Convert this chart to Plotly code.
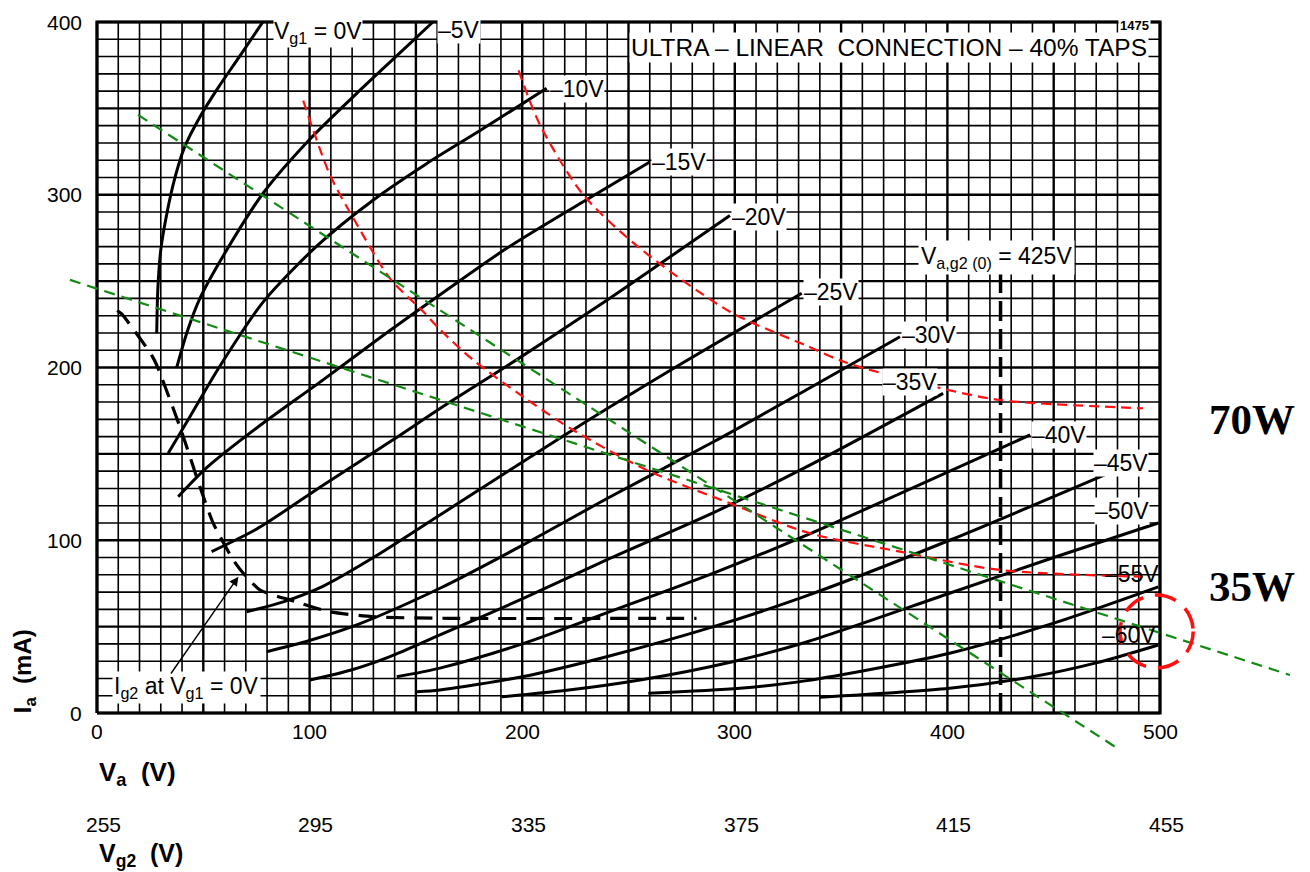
import plotly.graph_objects as go

# ---------------- data ----------------
grid_x = list(range(0, 501, 10))
grid_y = list(range(0, 401, 10))
x_ticks = [0, 100, 200, 300, 400, 500]
y_ticks = [0, 100, 200, 300, 400]
vg2_ticks = ["255", "295", "335", "375", "415", "455"]

va_0 = [28.1, 28.6, 30.0, 33.0, 36.7, 41.0, 48.4, 57.0, 67.0, 78.0]
ia_0 = [219.8, 245.0, 268.0, 290.0, 310.0, 327.0, 345.0, 362.0, 380.0, 400.0]
va_m5 = [37.5, 42.5, 48.4, 61.0, 78.2, 100.0, 125.0, 145.0, 158.0]
ia_m5 = [200.0, 221.0, 240.0, 268.0, 301.0, 332.0, 362.0, 385.0, 400.0]
va_m10 = [33.5, 43.7, 57.9, 78.2, 104.0, 130.0, 155.0, 180.0, 211.5]
ia_m10 = [150.3, 171.5, 201.0, 238.0, 271.0, 297.0, 318.0, 337.0, 361.6]
va_m15 = [38.2, 51.6, 75.1, 106.5, 135.0, 163.5, 192.7, 228.7, 260.0]
ia_m15 = [125.2, 142.0, 165.0, 193.0, 219.0, 244.0, 269.0, 296.0, 319.0]
va_m20 = [53.9, 75.1, 106.5, 137.8, 166.0, 198.0, 224.0, 250.7, 297.7]
ia_m20 = [93.4, 106.5, 132.0, 157.0, 180.0, 205.0, 226.0, 248.0, 288.0]
va_m25 = [70.4, 88.0, 106.5, 130.0, 161.3, 224.0, 276.0, 331.5]
ia_m25 = [58.6, 64.5, 73.5, 90.0, 114.6, 164.0, 203.0, 243.0]
va_m30 = [79.8, 100.0, 122.2, 161.3, 200.0, 239.7, 290.0, 335.0, 377.7]
ia_m30 = [35.5, 42.0, 51.0, 72.2, 97.0, 124.0, 157.0, 188.0, 217.8]
va_m35 = [100.2, 120.0, 137.8, 161.3, 200.0, 239.7, 290.0, 333.0, 398.0]
ia_m35 = [19.1, 25.0, 32.6, 45.2, 66.0, 88.6, 116.0, 142.0, 185.0]
va_m40 = [141.0, 161.3, 200.0, 239.7, 290.0, 333.0, 377.7, 438.9]
ia_m40 = [21.0, 26.0, 40.0, 58.0, 81.0, 102.5, 127.0, 161.0]
va_m45 = [150.4, 161.3, 200.0, 239.7, 290.0, 333.0, 401.0, 474.0]
ia_m45 = [12.3, 13.3, 21.0, 32.6, 50.0, 67.5, 100.0, 137.8]
va_m50 = [190.3, 220.0, 255.4, 300.0, 333.0, 401.0, 450.0, 499.2]
ia_m50 = [9.4, 13.0, 19.1, 30.0, 40.8, 69.3, 90.0, 110.0]
va_m55 = [259.3, 302.4, 333.0, 401.0, 450.0, 499.2]
ia_m55 = [11.4, 14.3, 18.6, 34.6, 52.0, 73.0]
va_m60 = [340.0, 401.0, 440.0, 470.0, 499.2]
ia_m60 = [9.1, 14.3, 21.0, 29.0, 39.4]

# screen-grid current Ig2 at Vg1 = 0V (dashed)
va_ig2 = [9.5, 11.6, 25.7, 28.1, 39.0, 48.4, 54.7, 64.1, 68.8, 76.7, 90.8, 109.6, 130.0, 166.0, 282.0]
ia_ig2 = [233.0, 231.0, 207.2, 201.4, 165.7, 131.0, 109.8, 88.6, 80.9, 71.2, 65.4, 58.6, 55.7, 54.8, 54.8]

# power hyperbolas (red dashed)
va_70w = [198.3, 208.4, 228.7, 255.4, 297.7, 333.0, 352.0, 393.4, 424.7, 492.0]
ia_70w = [372.0, 340.4, 300.0, 269.0, 232.3, 213.0, 203.0, 189.0, 181.2, 176.4]
va_35w = [97.0, 109.6, 120.6, 137.8, 153.5, 161.3, 177.0, 200.5, 224.0, 258.5, 297.7, 335.4, 377.7, 424.7, 492.0]
ia_35w = [354.5, 311.4, 286.4, 251.6, 232.3, 222.0, 204.3, 183.0, 163.8, 140.7, 121.4, 104.0, 93.4, 82.8, 78.9]

# load lines (green dashed)
va_load_a = [19.3, 481.2]
ia_load_a = [346.2, -21.4]
va_load_b = [-12.7, 561.1]
ia_load_b = [250.7, 22.0]

# quiescent vertical line Va,g2(0) = 425V
va_q = [425, 425]
ia_q = [0, 255]

curves = [
    (va_0, ia_0), (va_m5, ia_m5), (va_m10, ia_m10), (va_m15, ia_m15),
    (va_m20, ia_m20), (va_m25, ia_m25), (va_m30, ia_m30), (va_m35, ia_m35),
    (va_m40, ia_m40), (va_m45, ia_m45), (va_m50, ia_m50), (va_m55, ia_m55),
    (va_m60, ia_m60),
]

# label text, position (Va, Ia), anchor, white background?
curve_labels = [
    ("V<sub>g1</sub> = 0V", 104.0, 394.0, "center", True),
    ("–5V", 170.3, 395.4, "center", True),
    ("–10V", 212.5, 361.0, "left", True),
    ("–15V", 260.5, 319.0, "left", True),
    ("–20V", 298.2, 287.0, "left", True),
    ("–25V", 332.0, 243.5, "left", True),
    ("–30V", 378.2, 219.0, "left", True),
    ("–35V", 382.5, 191.6, "center", True),
    ("–40V", 439.4, 161.0, "left", True),
    ("–45V", 481.7, 145.0, "center", True),
    ("–50V", 482.0, 117.0, "center", True),
    ("–55V", 487.0, 80.5, "center", False),
    ("–60V", 485.4, 45.0, "center", False),
]

# ---------------- figure ----------------
fig = go.Figure()

PX_X = 2.126   # px per volt
PX_Y = 1.7275  # px per mA
x_range = [-97 / PX_X, (1310 - 97) / PX_X]
y_range = [(713 - 872) / PX_Y, 713 / PX_Y]

FONT = "Liberation Sans"
X0, X1 = grid_x[0], grid_x[-1]
Y0, Y1 = grid_y[0], grid_y[-1]


def grid_trace(values, vertical, major):
    xs, ys = [], []
    for v in values:
        if (v % 50 == 0) != major:
            continue
        if vertical:
            xs += [v, v, None]
            ys += [Y0, Y1, None]
        else:
            xs += [X0, X1, None]
            ys += [v, v, None]
    return go.Scatter(x=xs, y=ys, mode="lines", hoverinfo="skip",
                      line=dict(color="black", width=2.4 if major else 1.6),
                      showlegend=False)


fig.add_trace(grid_trace(grid_x, True, False))
fig.add_trace(grid_trace(grid_y, False, False))
fig.add_trace(grid_trace(grid_x, True, True))
fig.add_trace(grid_trace(grid_y, False, True))
fig.add_trace(go.Scatter(x=[X0, X1, X1, X0, X0], y=[Y0, Y0, Y1, Y1, Y0], mode="lines",
                         line=dict(color="black", width=3.2), showlegend=False, hoverinfo="skip"))

for va, ia in curves:
    fig.add_trace(go.Scatter(x=va, y=ia, mode="lines",
                             line=dict(color="black", width=3, shape="spline", smoothing=0.8),
                             showlegend=False, hoverinfo="skip"))

fig.add_trace(go.Scatter(x=va_ig2, y=ia_ig2, mode="lines",
                         line=dict(color="black", width=3.2, dash="18px,10px", shape="spline", smoothing=0.6),
                         showlegend=False, hoverinfo="skip"))
fig.add_trace(go.Scatter(x=va_q, y=ia_q, mode="lines",
                         line=dict(color="black", width=3.5, dash="20px,8px"),
                         showlegend=False, hoverinfo="skip"))

for va, ia in [(va_70w, ia_70w), (va_35w, ia_35w)]:
    fig.add_trace(go.Scatter(x=va, y=ia, mode="lines",
                             line=dict(color="#ff1010", width=2.2, dash="10px,6px", shape="spline", smoothing=0.8),
                             showlegend=False, hoverinfo="skip"))
for va, ia in [(va_load_a, ia_load_a), (va_load_b, ia_load_b)]:
    fig.add_trace(go.Scatter(x=va, y=ia, mode="lines",
                             line=dict(color="#138a13", width=2.2, dash="11px,7px"),
                             showlegend=False, hoverinfo="skip"))

# red dashed circle around 35W intersection
circ_c = (498.4, 47.2)
circ_r = (17.2, 21.1)
fig.add_shape(type="circle", xref="x", yref="y",
              x0=circ_c[0] - circ_r[0], x1=circ_c[0] + circ_r[0],
              y0=circ_c[1] - circ_r[1], y1=circ_c[1] + circ_r[1],
              line=dict(color="#ff1010", width=3.5, dash="22px,12px"))

ann = []
for text, x, y, anch, bg in curve_labels:
    ann.append(dict(x=x, y=y, text=text, showarrow=False, xanchor=anch, yanchor="middle",
                    font=dict(family=FONT, size=23, color="black"),
                    bgcolor="white" if bg else None, borderpad=0))

# axis tick labels
for v in x_ticks:
    ann.append(dict(x=v, y=-10.5, text=str(v), showarrow=False, xanchor="center", yanchor="middle",
                    font=dict(family=FONT, size=21, color="black")))
for v in y_ticks:
    ann.append(dict(x=-6, y=v, text=str(v), showarrow=False, xanchor="right", yanchor="middle",
                    font=dict(family=FONT, size=21, color="black")))
for v, t in zip(x_ticks, vg2_ticks):
    ann.append(dict(x=v + 3, y=-64.5, text=t, showarrow=False, xanchor="center", yanchor="middle",
                    font=dict(family=FONT, size=21, color="black")))

ann += [
    dict(x=0, y=-35, text="<b>V<sub>a</sub>  (V)</b>", showarrow=False, xanchor="left", yanchor="middle",
         font=dict(family=FONT, size=26, color="black")),
    dict(x=0, y=-82, text="<b>V<sub>g2</sub>  (V)</b>", showarrow=False, xanchor="left", yanchor="middle",
         font=dict(family=FONT, size=25, color="black")),
    dict(x=-34, y=24, text="<b>I<sub>a</sub>  (mA)</b>", showarrow=False, textangle=-90,
         xanchor="center", yanchor="middle", font=dict(family=FONT, size=24, color="black")),
    dict(x=372.3, y=385, text="ULTRA – LINEAR  CONNECTION – 40% TAPS", showarrow=False,
         xanchor="center", yanchor="middle", font=dict(family=FONT, size=24.5, color="black"),
         bgcolor="white", borderpad=1),
    dict(x=488.0, y=398, text="<b>1475</b>", showarrow=False, xanchor="center", yanchor="middle",
         font=dict(family=FONT, size=13, color="black"), bgcolor="white"),
    dict(x=423.3, y=263.4, text="V<sub>a,g2 (0)</sub> = 425V", showarrow=False,
         xanchor="center", yanchor="middle", font=dict(family=FONT, size=23, color="black"),
         bgcolor="white", borderpad=2),
    dict(x=42.3, y=14.5, text="I<sub>g2</sub> at V<sub>g1</sub> = 0V", showarrow=False,
         xanchor="center", yanchor="middle", font=dict(family=FONT, size=23, color="black"),
         bgcolor="white", borderpad=1),
    dict(x=66.5, y=78.9, ax=34.3, ay=22, axref="x", ayref="y", xref="x", yref="y", text="",
         showarrow=True, arrowhead=2, arrowsize=1.3, arrowwidth=1.4, arrowcolor="black"),
    dict(x=543.5, y=170, text="<b>70W</b>", showarrow=False, xanchor="center", yanchor="middle",
         font=dict(family="Liberation Serif", size=43, color="black")),
    dict(x=543.5, y=73, text="<b>35W</b>", showarrow=False, xanchor="center", yanchor="middle",
         font=dict(family="Liberation Serif", size=43, color="black")),
]

fig.update_layout(
    width=1310, height=872,
    margin=dict(l=0, r=0, t=0, b=0, autoexpand=False),
    paper_bgcolor="white", plot_bgcolor="white",
    xaxis=dict(range=x_range, visible=False, fixedrange=True),
    yaxis=dict(range=y_range, visible=False, fixedrange=True),
    annotations=ann,
    showlegend=False,
)

fig.write_html("out.html", post_script="document.body.style.margin='0';",
               config={"displayModeBar": False})
